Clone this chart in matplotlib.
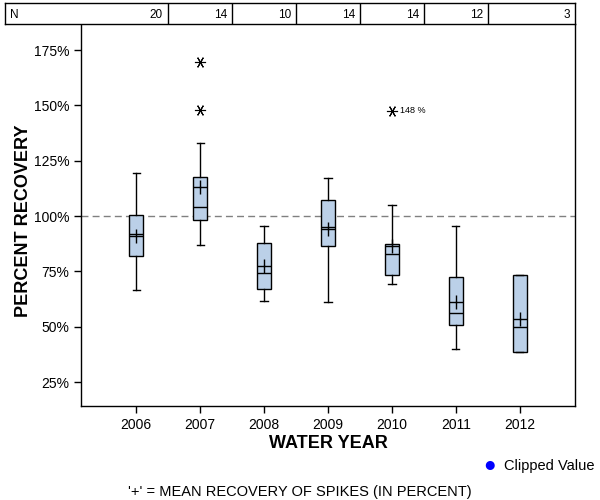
import matplotlib.pyplot as plt
from matplotlib.ticker import FuncFormatter

plt.rcParams['font.family'] = ['Liberation Sans', 'DejaVu Sans']

# Spike recovery by water year (percent)
years = ['2006', '2007', '2008', '2009', '2010', '2011', '2012']
counts = [20, 14, 10, 14, 14, 12, 3]
medians = [91.9, 103.9, 74.2, 94.9, 83.1, 56.0, 50.1]
q1s = [81.9, 98.1, 67.0, 86.4, 73.6, 50.6, 38.4]
q3s = [100.3, 117.6, 87.7, 107.1, 87.2, 72.3, 73.2]
wlo = [66.5, 86.8, 61.6, 61.1, 69.3, 39.9, 38.4]
whi = [119.3, 133.1, 95.6, 117.0, 104.8, 95.6, 73.2]
means = [91.0, 113.0, 77.4, 94.4, 86.6, 61.4, 53.6]
outliers = [[], [147.8, 169.5], [], [], [147.5], [], []]
labeled = {4: '148 %'}

box_color = '#BBD0E8'

fig = plt.figure(figsize=(6, 5), dpi=100)
ax = fig.add_axes([81 / 600, 1 - 406 / 500, 494 / 600, 382 / 500])

stats = []
for i in range(len(years)):
    stats.append({'med': medians[i], 'q1': q1s[i], 'q3': q3s[i],
                  'whislo': wlo[i], 'whishi': whi[i], 'mean': means[i],
                  'fliers': outliers[i]})

pos = list(range(len(years)))
ax.axhline(100, color='#808080', lw=1, ls=(0, (5, 3)), zorder=0)
ax.bxp(stats, positions=pos, widths=0.23, patch_artist=True, showmeans=True,
       showfliers=False,
       boxprops=dict(facecolor=box_color, edgecolor='black', lw=1),
       medianprops=dict(color='black', lw=1),
       whiskerprops=dict(color='black', lw=1),
       capprops=dict(color='black', lw=1), capwidths=0.11,
       meanprops=dict(marker='+', markersize=10, markeredgecolor='black',
                      markeredgewidth=1))

for i, vals in enumerate(outliers):
    for v in vals:
        ax.plot(i, v, marker=(6, 2, 90), markersize=8, color='black',
                markeredgewidth=0.8, ls='none')
        if i in labeled:
            ax.text(i + 0.13, v, labeled[i], fontsize=6.5, va='center')

ax.set_xlim(-0.86, 6.86)
ax.set_ylim(14.2, 186.8)
ax.set_xticks(pos)
ax.set_xticklabels(years)
ax.set_yticks([25, 50, 75, 100, 125, 150, 175])
ax.yaxis.set_major_formatter(FuncFormatter(lambda v, p: f'{v:.0f}%'))
ax.tick_params(axis='both', labelsize=10, length=5, width=1, direction='out')
ax.spines['top'].set_visible(False)
for s in ['left', 'right', 'bottom']:
    ax.spines[s].set_linewidth(1)

ax.set_xlabel('WATER YEAR', fontsize=13, fontweight='bold', va='center')
ax.set_ylabel('PERCENT RECOVERY', fontsize=13, fontweight='bold', va='center')
ax.xaxis.set_label_coords(0.5, (406 - 443) / 382)
ax.yaxis.set_label_coords((24 - 81) / 494, (406 - 221) / 382)

# N table on top
tab = fig.add_axes([5 / 600, 1 - 24 / 500, 570 / 600, 21 / 500])
tab.set_xlim(-0.86 - 76 / 64, 6.86)
tab.set_ylim(0, 1)
tab.set_xticks([])
tab.set_yticks([])
for s in tab.spines.values():
    s.set_linewidth(1)
for i in range(len(years) - 1):
    tab.axvline(i + 0.5, color='black', lw=1)
tab.text(-0.86 - 76 / 64 + 0.08, 0.45, 'N', fontsize=8.5, va='center')
for i, n in enumerate(counts):
    right = i + 0.5 if i < len(years) - 1 else 6.86
    tab.text(right - 0.08, 0.45, str(n), fontsize=8.5, va='center', ha='right')

# legend and footnote
fig.text(490 / 600, 1 - 465 / 500, '\u25CF', color='blue', fontsize=15,
         ha='center', va='center')
fig.text(504 / 600, 1 - 466 / 500, 'Clipped Value', fontsize=10.5, va='center')
fig.text(300 / 600, 1 - 492 / 500, "'+' = MEAN RECOVERY OF SPIKES (IN PERCENT)",
         fontsize=10.5, ha='center', va='center')

fig.savefig('out.png', dpi=100)
